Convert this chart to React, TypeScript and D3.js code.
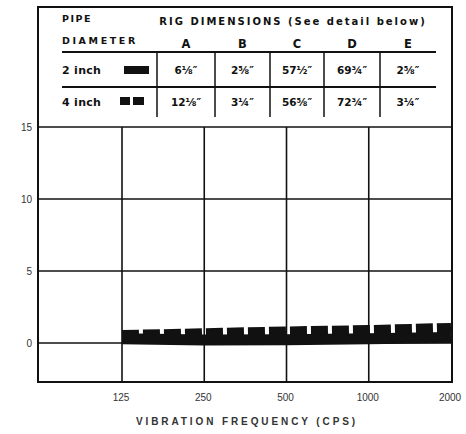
import React, { useEffect, useRef } from "react";
import * as d3 from "d3";

// vibration frequency (cps), log base 2 axis
const frequencies = [125, 250, 500, 1000, 2000];
const pipe2inch = [0.3, 0.2, 0.22, 0.3, 0.38];
const pipe4inch = [0.55, 0.68, 0.8, 0.9, 1.05];
const yTicks = [0, 5, 10, 15];

// rig dimension table
const dimColumns = ["A", "B", "C", "D", "E"];
const row2inch = ["6⅛\u2033", "2⅝\u2033", "57½\u2033", "69¾\u2033", "2⅝\u2033"];
const row4inch = ["12⅛\u2033", "3¼\u2033", "56⅝\u2033", "72¾\u2033", "3¼\u2033"];

const W = 466;
const H = 434;
const ink = "#111";
const font = "'Liberation Sans', Arial, sans-serif";
const wide = "'DejaVu Sans', Verdana, sans-serif";

const App = () => {
  const ref = useRef<SVGSVGElement>(null);

  useEffect(() => {
    const svg = d3.select(ref.current);
    svg.selectAll("*").remove();

    const left = 38;
    const right = 452;
    const top = 7;
    const bottom = 382;

    const x = d3.scaleLog().base(2).domain([125, 2000]).range([122, 451]);
    const y = d3.scaleLinear().domain([0, 15]).range([343, 127]);

    // outer frame
    svg
      .append("rect")
      .attr("x", left)
      .attr("y", top)
      .attr("width", right - left)
      .attr("height", bottom - top)
      .attr("fill", "none")
      .attr("stroke", ink)
      .attr("stroke-width", 2);

    // horizontal gridlines + y labels
    svg
      .selectAll(".hgrid")
      .data(yTicks)
      .enter()
      .append("line")
      .attr("x1", left)
      .attr("x2", right)
      .attr("y1", (d) => y(d))
      .attr("y2", (d) => y(d))
      .attr("stroke", ink)
      .attr("stroke-width", 1.7);

    svg
      .selectAll(".ylab")
      .data(yTicks)
      .enter()
      .append("text")
      .attr("x", 32)
      .attr("y", (d) => y(d) + 4)
      .attr("text-anchor", "end")
      .style("font-family", font)
      .style("font-size", "10px")
      .style("fill", "#333")
      .text((d) => d);

    // vertical gridlines + x labels
    svg
      .selectAll(".vgrid")
      .data(frequencies.slice(0, -1))
      .enter()
      .append("line")
      .attr("x1", (d) => x(d))
      .attr("x2", (d) => x(d))
      .attr("y1", y(15))
      .attr("y2", bottom)
      .attr("stroke", ink)
      .attr("stroke-width", 1.6);

    svg
      .selectAll(".xlab")
      .data(frequencies)
      .enter()
      .append("text")
      .attr("x", (d) => x(d) - 1)
      .attr("y", 401)
      .attr("text-anchor", "middle")
      .style("font-family", font)
      .style("font-size", "10px")
      .style("fill", "#333")
      .text((d) => d);

    svg
      .append("text")
      .attr("x", 247)
      .attr("y", 425)
      .attr("text-anchor", "middle")
      .style("font-family", font)
      .style("font-size", "10px")
      .style("font-weight", "bold")
      .style("letter-spacing", "2.9px")
      .style("fill", "#333")
      .text("VIBRATION FREQUENCY (CPS)");

    // data lines
    const line = d3
      .line<number>()
      .x((_, i) => x(frequencies[i]))
      .y((d) => y(d));

    svg
      .append("path")
      .attr("d", line(pipe2inch))
      .attr("fill", "none")
      .attr("stroke", ink)
      .attr("stroke-width", 11);

    svg
      .append("path")
      .attr("d", line(pipe4inch))
      .attr("fill", "none")
      .attr("stroke", ink)
      .attr("stroke-width", 10)
      .attr("stroke-dasharray", "17,4");

    // table
    const tbl = svg.append("g");
    const tl = 62;
    const tr = 436;
    const colEdges = [157, 215, 270, 324, 380, tr];
    const colMid = dimColumns.map((_, i) => (colEdges[i] + colEdges[i + 1]) / 2);

    const txt = (tx: number, ty: number, s: string, anchor = "start", size = 10, spacing = 0) =>
      tbl
        .append("text")
        .attr("x", tx)
        .attr("y", ty)
        .attr("text-anchor", anchor)
        .style("font-family", wide)
        .style("font-size", size + "px")
        .style("font-weight", "bold")
        .style("letter-spacing", spacing + "px")
        .style("fill", ink)
        .text(s);

    txt(62, 22, "PIPE", "start", 9.5, 1.5);
    txt(62, 44, "DIAMETER", "start", 9.5, 2.6);
    txt(293, 25, "RIG DIMENSIONS (See detail below)", "middle", 10, 2);
    dimColumns.forEach((c, i) => txt(colMid[i], 48, c, "middle", 11.5));

    tbl
      .append("line")
      .attr("x1", tl)
      .attr("x2", tr)
      .attr("y1", 52)
      .attr("y2", 52)
      .attr("stroke", ink)
      .attr("stroke-width", 2);
    tbl
      .append("line")
      .attr("x1", tl)
      .attr("x2", tr)
      .attr("y1", 87)
      .attr("y2", 87)
      .attr("stroke", ink)
      .attr("stroke-width", 2);

    colEdges.slice(0, -1).forEach((cx) =>
      tbl
        .append("line")
        .attr("x1", cx)
        .attr("x2", cx)
        .attr("y1", 53)
        .attr("y2", 117)
        .attr("stroke", ink)
        .attr("stroke-width", 1.5)
    );

    txt(62, 74, "2 inch", "start", 11, 0.3);
    tbl.append("rect").attr("x", 124).attr("y", 66).attr("width", 25).attr("height", 8).attr("fill", ink);
    txt(62, 106, "4 inch", "start", 11, 0.3);
    tbl.append("rect").attr("x", 120).attr("y", 97).attr("width", 10).attr("height", 8).attr("fill", ink);
    tbl.append("rect").attr("x", 133).attr("y", 97).attr("width", 11).attr("height", 8).attr("fill", ink);

    row2inch.forEach((v, i) => txt(colMid[i], 74, v, "middle", 10.5));
    row4inch.forEach((v, i) => txt(colMid[i], 106, v, "middle", 10.5));
  }, []);

  return (
    <div style={{ position: "absolute", left: 0, top: 0 }}>
      <svg ref={ref} width={W} height={H} style={{ display: "block", background: "#fff" }} />
    </div>
  );
};

export default App;
